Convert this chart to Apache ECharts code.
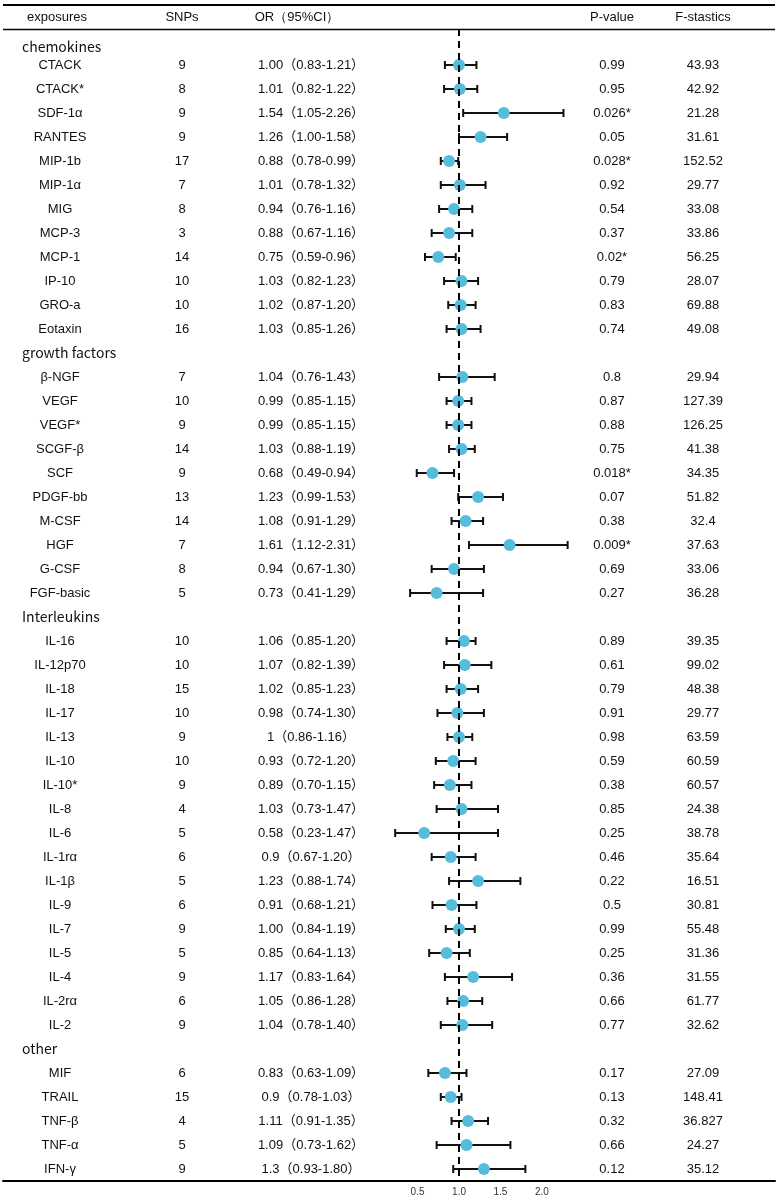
<!DOCTYPE html>
<html>
<head>
<meta charset="utf-8">
<script src="https://cdn.jsdelivr.net/npm/echarts@6/dist/echarts.min.js"></script>
<style>html,body{margin:0;padding:0;background:#fff}#c{width:779px;height:1200px}</style>
</head>
<body>
<div id="c"></div>
<script>
// ---- data ----
const groupNames = ['chemokines', 'growth factors', 'Interleukins', 'other'];
const groupSizes = [12, 10, 17, 5];
const exposures = ['CTACK','CTACK*','SDF-1α','RANTES','MIP-1b','MIP-1α','MIG','MCP-3','MCP-1','IP-10','GRO-a','Eotaxin',
  'β-NGF','VEGF','VEGF*','SCGF-β','SCF','PDGF-bb','M-CSF','HGF','G-CSF','FGF-basic',
  'IL-16','IL-12p70','IL-18','IL-17','IL-13','IL-10','IL-10*','IL-8','IL-6','IL-1rα','IL-1β','IL-9','IL-7','IL-5','IL-4','IL-2rα','IL-2',
  'MIF','TRAIL','TNF-β','TNF-α','IFN-γ'];
const snps = [9,8,9,9,17,7,8,3,14,10,10,16,
  7,10,9,14,9,13,14,7,8,5,
  10,10,15,10,9,10,9,4,5,6,5,6,9,5,9,6,9,
  6,15,4,5,9];
const orText = ['1.00','1.01','1.54','1.26','0.88','1.01','0.94','0.88','0.75','1.03','1.02','1.03',
  '1.04','0.99','0.99','1.03','0.68','1.23','1.08','1.61','0.94','0.73',
  '1.06','1.07','1.02','0.98','1','0.93','0.89','1.03','0.58','0.9','1.23','0.91','1.00','0.85','1.17','1.05','1.04',
  '0.83','0.9','1.11','1.09','1.3'];
const lowText = ['0.83','0.82','1.05','1.00','0.78','0.78','0.76','0.67','0.59','0.82','0.87','0.85',
  '0.76','0.85','0.85','0.88','0.49','0.99','0.91','1.12','0.67','0.41',
  '0.85','0.82','0.85','0.74','0.86','0.72','0.70','0.73','0.23','0.67','0.88','0.68','0.84','0.64','0.83','0.86','0.78',
  '0.63','0.78','0.91','0.73','0.93'];
const highText = ['1.21','1.22','2.26','1.58','0.99','1.32','1.16','1.16','0.96','1.23','1.20','1.26',
  '1.43','1.15','1.15','1.19','0.94','1.53','1.29','2.31','1.30','1.29',
  '1.20','1.39','1.23','1.30','1.16','1.20','1.15','1.47','1.47','1.20','1.74','1.21','1.19','1.13','1.64','1.28','1.40',
  '1.09','1.03','1.35','1.62','1.80'];
const pValues = ['0.99','0.95','0.026*','0.05','0.028*','0.92','0.54','0.37','0.02*','0.79','0.83','0.74',
  '0.8','0.87','0.88','0.75','0.018*','0.07','0.38','0.009*','0.69','0.27',
  '0.89','0.61','0.79','0.91','0.98','0.59','0.38','0.85','0.25','0.46','0.22','0.5','0.99','0.25','0.36','0.66','0.77',
  '0.17','0.13','0.32','0.66','0.12'];
const fStats = ['43.93','42.92','21.28','31.61','152.52','29.77','33.08','33.86','56.25','28.07','69.88','49.08',
  '29.94','127.39','126.25','41.38','34.35','51.82','32.4','37.63','33.06','36.28',
  '39.35','99.02','48.38','29.77','63.59','60.59','60.57','24.38','38.78','35.64','16.51','30.81','55.48','31.36','31.55','61.77','32.62',
  '27.09','148.41','36.827','24.27','35.12'];
const headers = ['exposures', 'SNPs', 'OR（95%CI）', 'P-value', 'F-stastics'];
const axisTicks = [0.5, 1.0, 1.5, 2.0];

// ---- build rows ----
const rowGroup = [], rowName = [], rowSnp = [], rowOr = [], rowP = [], rowF = [];
const points = [], bars = [];
let k = 0;
groupNames.forEach((g, gi) => {
  rowGroup.push(g); rowName.push(''); rowSnp.push(''); rowOr.push(''); rowP.push(''); rowF.push('');
  for (let j = 0; j < groupSizes[gi]; j++, k++) {
    const r = rowName.length;
    rowGroup.push(''); rowName.push(exposures[k]); rowSnp.push(String(snps[k]));
    rowOr.push(orText[k] + '（' + lowText[k] + '-' + highText[k] + '）');
    rowP.push(pValues[k]); rowF.push(fStats[k]);
    points.push([parseFloat(orText[k]), r]);
    bars.push([parseFloat(lowText[k]), parseFloat(highText[k]), r]);
  }
});
const rowIds = rowName.map((_, i) => i);

const FONT = '"Liberation Sans", Arial, "Noto Sans CJK SC", sans-serif';
const TOP = 29, H = 1152;
const textCols = [
  {data: rowGroup, x: 22, align: 'left', size: 14, font: '"Noto Sans CJK SC", "Noto Sans", sans-serif'},
  {data: rowName, x: 60, align: 'center'},
  {data: rowSnp, x: 182, align: 'center'},
  {data: rowOr, x: 311, align: 'center'},
  {data: rowP, x: 612, align: 'center'},
  {data: rowF, x: 703, align: 'center'}
];

const grids = [{left: 3, right: 4, top: TOP, height: H}];
const xAxes = [{
  gridIndex: 0, type: 'value', min: -4.5, max: 4.811, interval: 0.5,
  splitLine: {show: false}, axisTick: {show: false},
  axisLine: {show: true, onZero: false, lineStyle: {color: '#000', width: 2}},
  axisLabel: {
    margin: 6, fontSize: 10, color: '#333', fontFamily: FONT,
    formatter: v => axisTicks.some(t => Math.abs(t - v) < 1e-6) ? v.toFixed(1) : ''
  }
}];
const yAxes = [{gridIndex: 0, type: 'category', inverse: true, data: rowIds, show: false}];
textCols.forEach((c, i) => {
  const fs = c.size || 13;
  grids.push({left: c.x, width: 1, top: TOP, height: H});
  xAxes.push({gridIndex: i + 1, type: 'value', show: false});
  yAxes.push({
    gridIndex: i + 1, type: 'category', inverse: true, data: c.data, position: 'left',
    axisLine: {show: false}, axisTick: {show: false}, splitLine: {show: false},
    axisLabel: {
      interval: 0, margin: 0, align: c.align, fontSize: fs, color: '#111',
      fontFamily: c.font || FONT,
      formatter: (v, idx) => (i === 0 && idx === 0) ? '{s|' + v + '}' : v,
      rich: {s: {padding: [12, 0, 0, 0], fontSize: fs, color: '#111', fontFamily: c.font || FONT}}
    }
  });
});

const headerGraphics = headers.map((h, i) => ({
  type: 'text', x: [57, 182, 297, 612, 703][i], y: 17,
  style: {text: h, fontSize: 13, fill: '#111', font: '13px ' + FONT, textAlign: 'center', textVerticalAlign: 'middle'}
}));

const option = {
  animation: false,
  grid: grids, xAxis: xAxes, yAxis: yAxes,
  graphic: [
    {type: 'line', shape: {x1: 3, y1: 5, x2: 775, y2: 5}, style: {stroke: '#000', lineWidth: 2}},
    {type: 'line', shape: {x1: 3, y1: 29.5, x2: 775, y2: 29.5}, style: {stroke: '#000', lineWidth: 1.5}}
  ].concat(headerGraphics),
  series: [
    {
      type: 'custom', xAxisIndex: 0, yAxisIndex: 0, z: 3,
      data: bars,
      renderItem: (params, api) => {
        const a = api.coord([api.value(0), api.value(2)]);
        const b = api.coord([api.value(1), api.value(2)]);
        const st = {stroke: '#111', lineWidth: 2};
        return {type: 'group', children: [
          {type: 'line', shape: {x1: a[0], y1: a[1], x2: b[0], y2: b[1]}, style: st},
          {type: 'line', shape: {x1: a[0], y1: a[1] - 4, x2: a[0], y2: a[1] + 4}, style: st},
          {type: 'line', shape: {x1: b[0], y1: b[1] - 4, x2: b[0], y2: b[1] + 4}, style: st}
        ]};
      },
      markLine: {
        silent: true, symbol: ['none', 'none'], label: {show: false},
        lineStyle: {color: '#000', width: 2, type: [7, 5]},
        data: [{xAxis: 1}]
      }
    },
    {
      type: 'scatter', xAxisIndex: 0, yAxisIndex: 0, z: 4,
      data: points, symbolSize: 12,
      itemStyle: {color: '#56bcdc', opacity: 1}
    }
  ]
};
const chart = echarts.init(document.getElementById('c'), null, {renderer: 'canvas'});
chart.setOption(option);
</script>
</body>
</html>
